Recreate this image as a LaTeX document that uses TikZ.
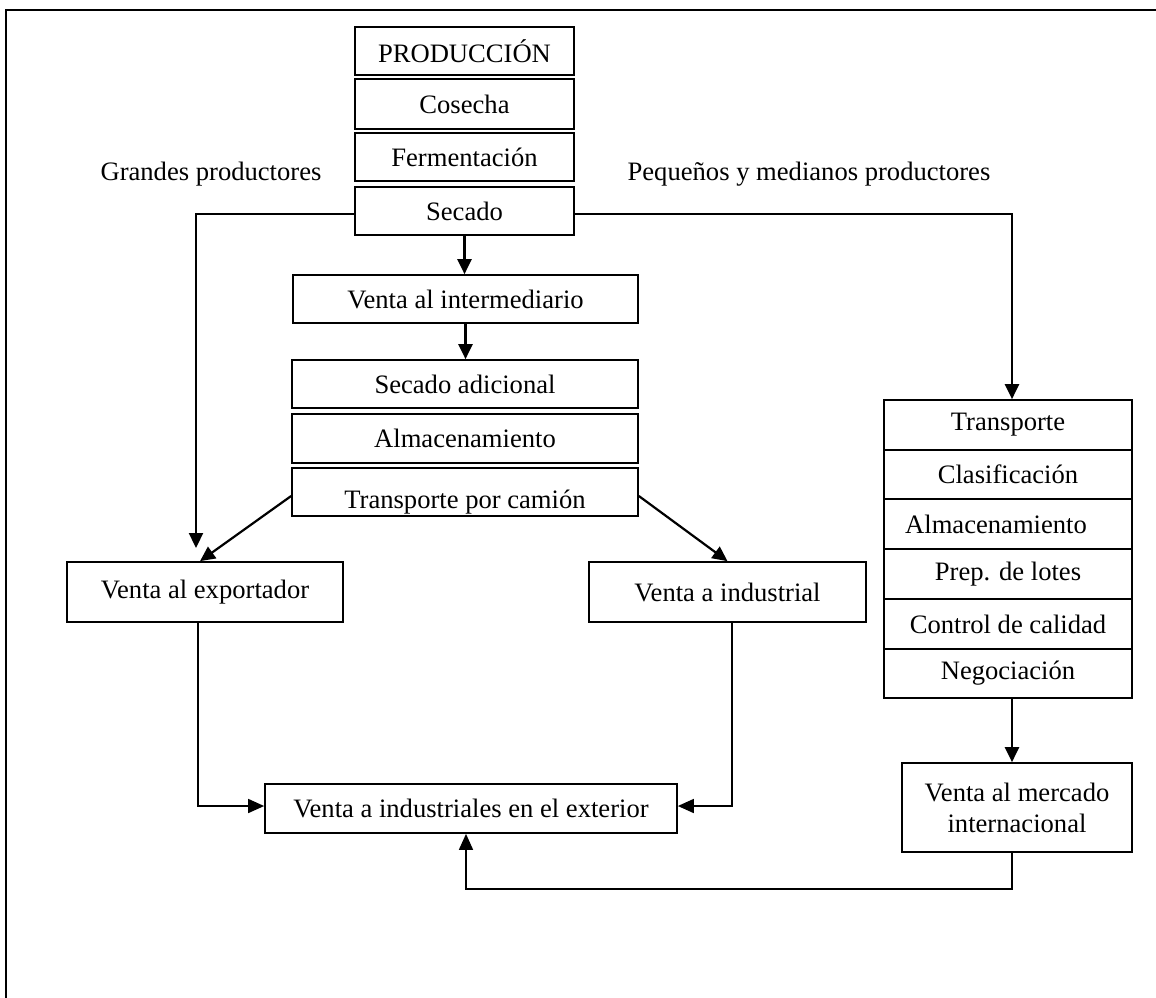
\documentclass[tikz,border=0pt]{standalone}
\usepackage{fontspec}
\setmainfont{Liberation Serif}
\usetikzlibrary{arrows.meta}
\begin{document}
\begin{tikzpicture}[x=1pt,y=-1pt,
  box/.style={draw, line width=1.7pt, rectangle, inner sep=0pt, font=\fontsize{26.6pt}{31pt}\selectfont},
  lbl/.style={inner sep=0pt, font=\fontsize{26.6pt}{31pt}\selectfont},
  arr/.style={line width=2.2pt, -{Triangle[length=15pt,width=14pt]}},
  thinarr/.style={line width=1.6pt, -{Triangle[length=16pt,width=14pt]}},
  frame/.style={line width=1.6pt}]
\useasboundingbox (0,0) rectangle (1156,997);
% outer frame (continues beyond the visible area)
\coordinate (fBL) at (6,1005);
\coordinate (fTL) at (6,10);
\coordinate (fTR) at (1165,10);
\draw[frame] (fBL) -- (fTL) -- (fTR);

% central production column
\node[box, minimum width=219pt, minimum height=48pt] (prod) at (464.5,51) {PRODUCCIÓN};
\node[box, minimum width=219pt, minimum height=50pt] (cos) at (464.5,104) {Cosecha};
\node[box, minimum width=219pt, minimum height=48pt] (fer) at (464.5,157) {Fermentación};
\node[box, minimum width=219pt, minimum height=48pt] (sec) at (464.5,211) {Secado};

% side labels
\node[lbl] (gran) at (211,174) {Grandes productores};
\node[lbl] (peq) at (809,174) {Pequeños y medianos productores};

% intermediary chain
\node[box, minimum width=345pt, minimum height=48pt] (int) at (465.5,299) {Venta al intermediario};
\node[box, minimum width=346pt, minimum height=48pt] (sad) at (465,384) {Secado adicional};
\node[box, minimum width=346pt, minimum height=49pt] (alm) at (465,438.5) {Almacenamiento};
\node[box, minimum width=346pt, minimum height=48pt, text depth=0pt, text height=16pt] (cam) at (465,492) {\raisebox{-8pt}{Transporte por camión}};

% sales boxes
\node[box, minimum width=276pt, minimum height=60pt] (exp) at (205,592) {Venta al exportador\hspace{21pt}};
\node[box, minimum width=277pt, minimum height=60pt] (ind) at (727.5,592) {Venta a industrial};
\node[box, minimum width=412pt, minimum height=49pt] (ext) at (471,808.5) {Venta a industriales en el exterior};

% right column
\node[box, minimum width=248pt, minimum height=50pt] (tra) at (1008,425) {Transporte};
\node[box, minimum width=248pt, minimum height=49pt] (cla) at (1008,474.5) {Clasificación};
\node[box, minimum width=248pt, minimum height=50pt] (alm2) at (1008,524) {};
\node[lbl] (alm2t) at (996,524) {Almacenamiento};
\node[box, minimum width=248pt, minimum height=50pt] (lot) at (1008,574) {Prep. de lotes};
\node[box, minimum width=248pt, minimum height=50pt] (cal) at (1008,624) {Control de calidad};
\node[box, minimum width=248pt, minimum height=49pt] (neg) at (1008,673.5) {Negociación};
\node[box, minimum width=230pt, minimum height=89pt, align=center] (merc) at (1017,807.5) {Venta al mercado\\internacional};

% connectors
\coordinate (gL) at (196,214);
\coordinate (gLend) at (196,548);
\draw[arr] (sec.west |- gL) -- (gL) -- (gLend);

\coordinate (pR) at (1012,214);
\draw[arr] (sec.east |- pR) -- (pR) -- (pR |- tra.north);

\draw[arr] (sec.south) -- (sec.south |- int.north);
\draw[arr] (int.south) -- (int.south |- sad.north);

\draw[arr] ([yshift=-4pt]cam.west) -- ([xshift=-5pt]exp.north);
\draw[arr] ([yshift=-4pt]cam.east) -- (ind.north);

\draw[thinarr] ([xshift=-7pt]exp.south) |- ([yshift=2.5pt]ext.west);
\draw[thinarr] ([xshift=4.5pt]ind.south) |- ([yshift=2.5pt]ext.east);

\draw[arr] ([xshift=4pt]neg.south) -- ([xshift=-5pt]merc.north);

\coordinate (mb) at (1012,889);
\draw[thinarr] ([xshift=-5pt]merc.south) -- (mb) -| ([xshift=-5pt]ext.south);
\end{tikzpicture}
\end{document}
